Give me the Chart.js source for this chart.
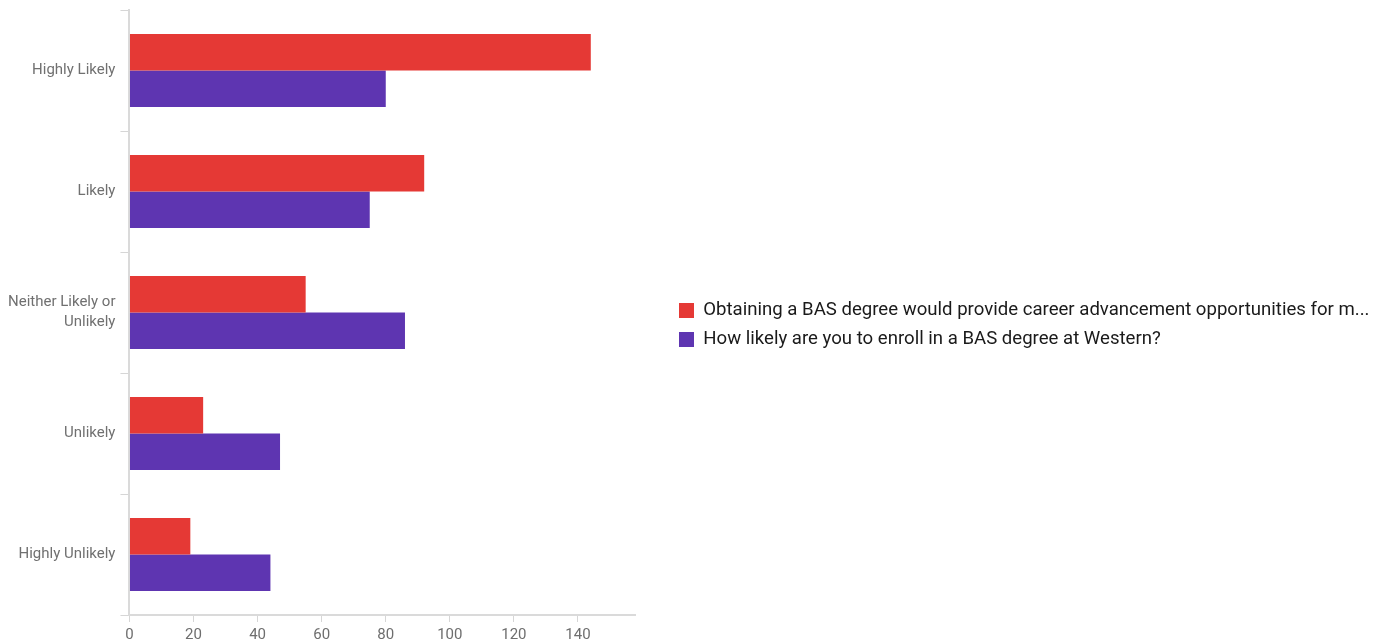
<!DOCTYPE html>
<html>
<head>
<meta charset="utf-8">
<script src="https://cdn.jsdelivr.net/npm/chart.js@4"></script>
<style>
html,body{margin:0;padding:0;background:#fff;}
#wrap{width:1385px;height:644px;}
</style>
</head>
<body>
<div id="wrap"><canvas id="c" width="1385" height="644"></canvas></div>
<script>
const categories = ['Highly Likely', 'Likely', ['Neither Likely or', 'Unlikely'], 'Unlikely', 'Highly Unlikely'];
const seriesNames = [
  'Obtaining a BAS degree would provide career advancement opportunities for m...',
  'How likely are you to enroll in a BAS degree at Western?'
];
const careerValues = [144, 92, 55, 23, 19];
const enrollValues = [80, 75, 86, 47, 44];
const xTickStep = 20;
const xMax = 157.8;

const LEGEND_PAD = 10.3;
const legendPlace = {
  id: 'legendPlace',
  beforeLayout(chart) {
    const lg = chart.legend;
    if (!lg || lg._patched) return;
    const orig = lg.fit;
    lg.fit = function () { orig.call(this); this.width = 750; };
    lg._patched = true;
  },
  afterLayout(chart) {
    const lg = chart.legend;
    if (!lg) return;
    const w = lg.right - lg.left;
    lg.left = 679 - LEGEND_PAD;
    lg.right = lg.left + w;
    lg.top -= 2;
    lg.bottom -= 2;
  }
};

new Chart(document.getElementById('c'), {
  type: 'bar',
  data: {
    labels: categories,
    datasets: [
      { label: seriesNames[0], data: careerValues, backgroundColor: '#E53935' },
      { label: seriesNames[1], data: enrollValues, backgroundColor: '#5E35B1' }
    ]
  },
  options: {
    indexAxis: 'y',
    responsive: false,
    animation: false,
    categoryPercentage: 0.605,
    barPercentage: 1,
    layout: { padding: { top: 10, left: 3, right: 0, bottom: 0 } },
    plugins: {
      tooltip: { enabled: false },
      legend: {
        position: 'right',
        align: 'center',
        labels: {
          boxWidth: 15, boxHeight: 15, padding: LEGEND_PAD,
          color: '#1a1a1a',
          font: { family: 'Roboto', size: 18.6 }
        }
      }
    },
    scales: {
      x: {
        min: 0, max: xMax,
        border: { color: '#dadada', width: 2 },
        grid: { drawOnChartArea: false, tickLength: 7, color: '#d6d6d6' },
        ticks: { stepSize: xTickStep, includeBounds: false, color: '#6e6e6e', padding: 4, font: { family: 'Roboto', size: 15 }, maxRotation: 0 },
        afterFit(scale) { scale.height = 29; }
      },
      y: {
        border: { color: '#dadada', width: 2 },
        grid: { drawOnChartArea: false, tickLength: 9, color: '#d6d6d6', offset: true },
        ticks: { color: '#707070', padding: 5, font: { family: 'Roboto', size: 15, lineHeight: 1.33 } },
        afterFit(scale) { scale.paddingTop = 0; scale.paddingBottom = 0; }
      }
    }
  },
  plugins: [legendPlace]
});
</script>
</body>
</html>
